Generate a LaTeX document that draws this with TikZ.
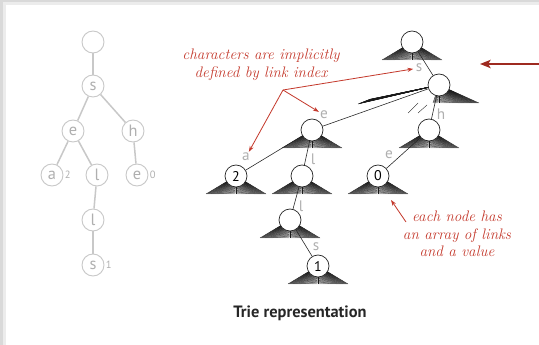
\documentclass[tikz,border=0pt]{standalone}
\usepackage{fontspec}
\setsansfont{PT Sans}
\usetikzlibrary{arrows.meta,backgrounds}
\definecolor{annot}{RGB}{196,58,45}
\definecolor{bigred}{RGB}{158,42,32}
\definecolor{lite}{RGB}{200,200,200}
\definecolor{litetext}{RGB}{175,175,175}
\tikzset{
  gnode/.style={
    circle,
    draw = lite,
    line width = 0.8pt,
    minimum size = 0.66cm,
    inner sep = 0pt,
    text = litetext,
    font = \sffamily\fontsize{14}{14}\selectfont
  },
  gedge/.style={
    draw = lite,
    line width = 1.3pt
  },
  gval/.style={
    anchor = west,
    text = litetext,
    font = \sffamily\fontsize{9}{9}\selectfont,
    inner sep = 1pt
  },
  tnode/.style={
    circle,
    draw = black!85,
    fill = white,
    line width = 0.6pt,
    minimum size = 0.66cm,
    inner sep = 0pt,
    font = \sffamily\fontsize{12}{12}\selectfont
  },
  tlink/.style={
    draw = black!85,
    line width = 0.5pt
  },
  spoke/.style={
    black!90,
    line width = 0.3pt
  },
  chr/.style={
    text = litetext,
    font = \sffamily\fontsize{13}{13}\selectfont,
    inner sep = 0pt
  },
  note/.style={
    text = annot,
    align = center,
    font = \itshape\fontsize{13}{15}\selectfont
  },
  pointer/.style={
    annot,
    line width = 0.7pt,
    -{Stealth[length=5pt,width=3.5pt]}
  }
}
\begin{document}
\begin{tikzpicture}[x=0.03cm, y=-0.03cm]
  \useasboundingbox (0,0) rectangle (539,345);

  % gray trie
  \node[gnode] (g0) at (93,42) {};
  \node[gnode] (gs) at (93,86) {s};
  \node[gnode] (ge) at (73,131) {e};
  \node[gnode] (gh) at (133,131) {h};
  \node[gnode] (ga) at (52,175) {a};
  \node[gnode] (gl) at (97,175) {l};
  \node[gnode] (ghe) at (137,175) {e};
  \node[gnode] (gll) at (93,220) {l};
  \node[gnode] (glls) at (93,265) {s};
  \node[gval] (va) at (ga.east) {2};
  \node[gval] (vhe) at (ghe.east) {0};
  \node[gval] (vlls) at (glls.east) {1};
  \draw[gedge] (g0) -- (gs);
  \draw[gedge] (gs) -- (ge);
  \draw[gedge] (gs) -- (gh);
  \draw[gedge] (ge) -- (ga);
  \draw[gedge] (ge) -- (gl);
  \draw[gedge] (gh) -- (ghe);
  \draw[gedge] (gl) -- (gll);
  \draw[gedge] (gll) -- (glls);

  % trie with link arrays
  \node[tnode] (t0) at (412,42) {};
  \node[tnode] (ts) at (439,85) {};
  \node[tnode] (te) at (312,130) {};
  \node[tnode] (th) at (429,130) {};
  \node[tnode] (ta) at (236,176) {2};
  \node[tnode] (tl) at (302,176) {};
  \node[tnode] (the) at (378,176) {0};
  \node[tnode] (tll) at (290,220) {};
  \node[tnode] (tlls) at (318,266) {1};
  \begin{scope}[on background layer]
    % page shadow
    \fill[gray!30] (0,0) rectangle (539,5);
    \fill[gray!30] (0,0) rectangle (6,345);
    \fill[gray!15] (3,2.5) rectangle (539,5);
    \fill[gray!15] (3,2.5) rectangle (6,345);
    \foreach \n in {t0,te,th,ta,tl,the,tll,tlls}
      \foreach \i in {0,...,60}
        \draw[spoke] (\n.center) -- ++(-30+\i,18);
    \foreach \i in {0,...,46}
      \draw[spoke] (ts.center) -- ++(-6+\i,18);
    \foreach \i in {0,...,24}
      \draw[spoke] (ts.center) -- ++(-81+\i*0.5,19-\i*0.2);
    \draw[spoke] (ts.center) ++(-21,18) -- ++(-10,10);
    \draw[spoke] (ts.center) ++(-12,20) -- ++(-9,8);
  \end{scope}
  \draw[tlink] (t0) -- (ts);
  \draw[tlink] (ts) -- (te);
  \draw[tlink] (ts) -- (th);
  \draw[tlink] (te) -- (ta);
  \draw[tlink] (te) -- (tl);
  \draw[tlink] (th) -- (the);
  \draw[tlink] (tl) -- (tll);
  \draw[tlink] (tll) -- (tlls);

  % link characters
  \node[chr] (cs) at (419,68) {s};
  \node[chr] (ce) at (324,115) {e};
  \node[chr] (ch) at (441,114) {h};
  \node[chr] (che) at (389,155) {e};
  \node[chr] (ca) at (246,157) {a};
  \node[chr] (cl) at (313,159) {l};
  \node[chr] (cll) at (301,206) {l};
  \node[chr] (clls) at (316,247) {s};

  % notes
  \node[note] (chars) at (261,65) {characters are implicitly\\defined by link index};
  \coordinate (fork) at (283,90);
  \draw[pointer, shorten >=1pt] (fork) -- (ca);
  \draw[pointer, shorten >=1pt] (fork) -- (ce);
  \draw[pointer, shorten >=2pt] (fork) -- (cs);
  \node[note] (links) at (457,234) {each node has\\an array of links\\and a value};
  \coordinate (linksTail) at (406,222);
  \coordinate (fanTip) at (391,200);
  \draw[pointer] (linksTail) -- (fanTip);
  \coordinate (edgeIn) at (539,64);
  \coordinate (edgeTip) at (480,64);
  \draw[bigred, line width=2pt, -{Stealth[length=9pt,width=7pt,inset=2pt]}] (edgeIn) -- (edgeTip);

  \node[font=\sffamily\bfseries\fontsize{14}{14}\selectfont, text=black!85] (title) at (300,313) {Trie representation};
\end{tikzpicture}
\end{document}
